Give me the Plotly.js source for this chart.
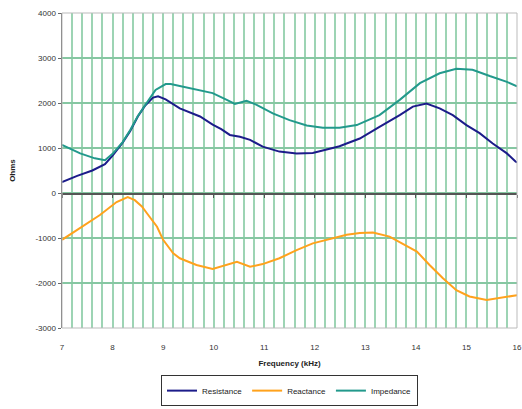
<!DOCTYPE html>
<html><head><meta charset="utf-8">
<script src="https://cdn.plot.ly/plotly-3.0.1.min.js"></script>
<style>html,body{margin:0;padding:0;background:#fff}#chart{width:522px;height:409px}</style>
</head><body><div id="chart"></div>
<script>
const resFreq = [7.0,7.3,7.6,7.85,8.0,8.2,8.35,8.5,8.65,8.8,8.9,9.05,9.33,9.5,9.73,9.98,10.15,10.32,10.52,10.72,10.97,11.3,11.64,11.96,12.3,12.49,12.63,12.89,13.28,13.68,13.94,14.21,14.47,14.73,15.0,15.26,15.52,15.8,15.97,16.0];
const resistance = [240,380,500,640,830,1120,1380,1700,1950,2120,2150,2080,1880,1800,1700,1520,1420,1290,1250,1180,1030,920,880,890,990,1040,1100,1210,1470,1730,1920,1990,1880,1730,1510,1330,1100,880,700,680];

const reactFreq = [7.0,7.36,7.75,8.08,8.3,8.44,8.58,8.68,8.88,9.0,9.2,9.33,9.66,9.98,10.26,10.46,10.72,10.97,11.3,11.64,11.96,12.3,12.63,12.89,13.15,13.48,13.74,14.02,14.27,14.53,14.8,15.06,15.4,15.72,16.0];
const reactance = [-1040,-780,-490,-200,-90,-160,-300,-450,-750,-1040,-1340,-1450,-1600,-1690,-1600,-1530,-1640,-1580,-1450,-1270,-1120,-1020,-930,-890,-880,-970,-1120,-1300,-1600,-1890,-2160,-2300,-2380,-2320,-2270];

const impFreq = [7.0,7.36,7.65,7.85,8.0,8.2,8.35,8.5,8.65,8.75,8.85,9.05,9.15,9.33,9.73,9.98,10.26,10.42,10.65,10.85,11.17,11.5,11.84,12.16,12.49,12.83,13.28,13.68,14.08,14.47,14.8,15.12,15.46,15.8,16.0];
const impedance = [1070,880,770,730,870,1130,1400,1710,1960,2120,2290,2420,2420,2380,2290,2220,2070,1980,2050,1960,1770,1620,1500,1450,1450,1510,1730,2070,2440,2660,2760,2740,2600,2470,2370];

const xTicks = [7,8,9,10,11,12,13,14,15,16];
const yTicks = [-3000,-2000,-1000,0,1000,2000,3000,4000];

const traces = [
  {x: resFreq, y: resistance, name: 'Resistance', type: 'scatter', mode: 'lines', line: {color: '#1c1c8a', width: 2}},
  {x: reactFreq, y: reactance, name: 'Reactance', type: 'scatter', mode: 'lines', line: {color: '#ffa21c', width: 2}},
  {x: impFreq, y: impedance, name: 'Impedance', type: 'scatter', mode: 'lines', line: {color: '#22998c', width: 2}},
  {x: [7,16], y: [0,0], xaxis: 'x2', yaxis: 'y', mode: 'lines', line: {width: 0}, showlegend: false, hoverinfo: 'skip'}
];

const font = {family: 'Liberation Sans, Arial, sans-serif', size: 8, color: '#333'};
const layout = {
  width: 522, height: 409,
  margin: {l: 62, r: 5, t: 13, b: 81, autoexpand: false},
  paper_bgcolor: '#fff', plot_bgcolor: '#fff',
  font: font,
  showlegend: true,
  xaxis: {
    range: [7, 16], tickvals: xTicks, ticktext: xTicks.map(String),
    showgrid: true, gridcolor: '#9dd4b4', gridwidth: 2,
    minor: {dtick: 0.2, tick0: 7, showgrid: true, gridcolor: '#9dd4b4', gridwidth: 2},
    zeroline: false, showline: false, automargin: false,
    ticks: 'outside', ticklen: 11, tickcolor: 'rgba(0,0,0,0)',
    tickfont: {size: 8, color: '#333'},
    title: {text: '<b>Frequency (kHz)</b>', font: {size: 8, color: '#222'}, standoff: 9}
  },
  xaxis2: {
    range: [7, 16], overlaying: 'x', anchor: 'free', position: 3/7,
    tickvals: xTicks, showticklabels: false, showgrid: false, zeroline: false,
    showline: true, linecolor: '#555', linewidth: 1.5, automargin: false,
    ticks: 'outside', ticklen: 3, tickcolor: '#555'
  },
  yaxis: {
    range: [-3000, 4000], tickvals: yTicks, ticktext: yTicks.map(String),
    showgrid: true, gridcolor: '#86c7a2', gridwidth: 1.5,
    zeroline: false, automargin: false,
    showline: true, linecolor: '#666', linewidth: 1.5,
    ticks: 'outside', ticklen: 3, tickcolor: '#666',
    tickfont: {size: 8, color: '#333'},
    title: {text: '<b>Ohms</b>', font: {size: 8, color: '#222'}, standoff: 18}
  },
  shapes: [
    {type: 'rect', xref: 'paper', yref: 'paper', x0: 0, x1: 1, y0: 0, y1: 1, line: {color: '#bbbbbb', width: 1}, layer: 'above'}
  ],
  legend: {
    orientation: 'h', x: 0.5, xanchor: 'center', y: -0.248, yanchor: 'bottom',
    bordercolor: '#333', borderwidth: 1, bgcolor: '#fff',
    font: {size: 8, color: '#222'}, itemwidth: 30, tracegroupgap: 0
  }
};

Plotly.newPlot('chart', traces, layout, {displayModeBar: false, staticPlot: true});
</script>
</body></html>
